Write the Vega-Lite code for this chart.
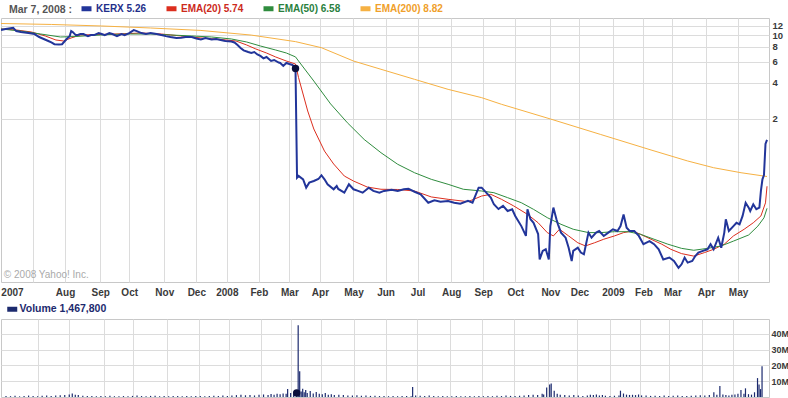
{
  "$schema": "https://vega.github.io/schema/vega-lite/v6.json",
  "background": "white",
  "padding": {"left": 0, "top": 0, "right": 0, "bottom": 0},
  "bounds": "flush",
  "spacing": 37,
  "config": {
    "view": {"stroke": "#c8c8c8"},
    "font": "Liberation Sans",
    "axis": {"gridColor": "#dcdcdc", "labelFont": "Liberation Sans", "labelFontWeight": "bold", "labelFontSize": 10, "labelColor": "#3a3a3a", "tickSize": 0, "domain": false, "title": null}
  },
  "resolve": {"scale": {"color": "independent", "x": "independent", "y": "independent"}, "legend": {"color": "independent"}},
  "vconcat": [
    {
      "width": 768,
      "height": 264,
      "title": {"text": "© 2008 Yahoo! Inc.", "orient": "bottom", "anchor": "start", "offset": -27, "dx": 3, "font": "Liberation Sans", "fontSize": 10, "fontWeight": "normal", "color": "#aaaaaa"},
      "data": {"values": [
        {"s":"KERX","t":0,"p":11.03},{"s":"KERX","t":3,"p":11.23},{"s":"KERX","t":8,"p":11.5},{"s":"KERX","t":10,"p":10.8},{"s":"KERX","t":13,"p":10.6},{"s":"KERX","t":18,"p":10.4},{"s":"KERX","t":22,"p":10.2},{"s":"KERX","t":25,"p":9.64},{"s":"KERX","t":28,"p":9.28},{"s":"KERX","t":31,"p":8.93},{"s":"KERX","t":33,"p":8.68},{"s":"KERX","t":35,"p":8.4},{"s":"KERX","t":38,"p":8.36},{"s":"KERX","t":40,"p":8.4},{"s":"KERX","t":41,"p":8.68},{"s":"KERX","t":43,"p":9.28},{"s":"KERX","t":45,"p":9.8},{"s":"KERX","t":46,"p":10.8},{"s":"KERX","t":47,"p":10.6},{"s":"KERX","t":49,"p":10.0},{"s":"KERX","t":50,"p":10.0},{"s":"KERX","t":52,"p":10.2},{"s":"KERX","t":54,"p":10.2},{"s":"KERX","t":57,"p":9.8},{"s":"KERX","t":59,"p":10.0},{"s":"KERX","t":61,"p":10.0},{"s":"KERX","t":64,"p":10.4},{"s":"KERX","t":66,"p":10.2},{"s":"KERX","t":68,"p":10.0},{"s":"KERX","t":71,"p":10.4},{"s":"KERX","t":73,"p":10.2},{"s":"KERX","t":76,"p":9.8},{"s":"KERX","t":79,"p":10.2},{"s":"KERX","t":81,"p":10.0},{"s":"KERX","t":84,"p":10.4},{"s":"KERX","t":86,"p":10.8},{"s":"KERX","t":87,"p":11.0},{"s":"KERX","t":89,"p":10.8},{"s":"KERX","t":92,"p":10.4},{"s":"KERX","t":95,"p":10.2},{"s":"KERX","t":98,"p":10.4},{"s":"KERX","t":102,"p":10.2},{"s":"KERX","t":105,"p":10.0},{"s":"KERX","t":108,"p":9.8},{"s":"KERX","t":111,"p":9.64},{"s":"KERX","t":115,"p":9.46},{"s":"KERX","t":118,"p":9.5},{"s":"KERX","t":121,"p":9.64},{"s":"KERX","t":125,"p":9.64},{"s":"KERX","t":128,"p":9.37},{"s":"KERX","t":131,"p":9.2},{"s":"KERX","t":134,"p":9.46},{"s":"KERX","t":138,"p":9.2},{"s":"KERX","t":141,"p":9.28},{"s":"KERX","t":144,"p":9.1},{"s":"KERX","t":147,"p":8.93},{"s":"KERX","t":151,"p":8.85},{"s":"KERX","t":153,"p":8.68},{"s":"KERX","t":155,"p":8.28},{"s":"KERX","t":157,"p":7.81},{"s":"KERX","t":159,"p":7.46},{"s":"KERX","t":162,"p":7.23},{"s":"KERX","t":164,"p":7.1},{"s":"KERX","t":166,"p":7.23},{"s":"KERX","t":168,"p":6.9},{"s":"KERX","t":170,"p":6.7},{"s":"KERX","t":172,"p":6.4},{"s":"KERX","t":174,"p":6.57},{"s":"KERX","t":177,"p":6.09},{"s":"KERX","t":179,"p":6.2},{"s":"KERX","t":182,"p":5.9},{"s":"KERX","t":183,"p":5.86},{"s":"KERX","t":185,"p":5.53},{"s":"KERX","t":187,"p":5.86},{"s":"KERX","t":189,"p":5.74},{"s":"KERX","t":191,"p":5.64},{"s":"KERX","t":193,"p":5.26},
        {"s":"KERX","t":194,"p":0.648},{"s":"KERX","t":195,"p":0.67},{"s":"KERX","t":198,"p":0.628},{"s":"KERX","t":200,"p":0.535},{"s":"KERX","t":202,"p":0.589},{"s":"KERX","t":205,"p":0.608},{"s":"KERX","t":208,"p":0.632},{"s":"KERX","t":210,"p":0.679},{"s":"KERX","t":212,"p":0.628},{"s":"KERX","t":214,"p":0.571},{"s":"KERX","t":218,"p":0.519},{"s":"KERX","t":220,"p":0.553},{"s":"KERX","t":221,"p":0.522},{"s":"KERX","t":225,"p":0.486},{"s":"KERX","t":228,"p":0.571},{"s":"KERX","t":231,"p":0.519},{"s":"KERX","t":234,"p":0.503},{"s":"KERX","t":237,"p":0.486},{"s":"KERX","t":241,"p":0.535},{"s":"KERX","t":244,"p":0.503},{"s":"KERX","t":248,"p":0.486},{"s":"KERX","t":251,"p":0.503},{"s":"KERX","t":256,"p":0.515},{"s":"KERX","t":260,"p":0.503},{"s":"KERX","t":264,"p":0.519},{"s":"KERX","t":267,"p":0.525},{"s":"KERX","t":271,"p":0.495},{"s":"KERX","t":275,"p":0.471},{"s":"KERX","t":280,"p":0.401},{"s":"KERX","t":284,"p":0.42},{"s":"KERX","t":288,"p":0.409},{"s":"KERX","t":293,"p":0.415},{"s":"KERX","t":297,"p":0.401},{"s":"KERX","t":301,"p":0.394},{"s":"KERX","t":306,"p":0.415},{"s":"KERX","t":309,"p":0.401},{"s":"KERX","t":313,"p":0.535},{"s":"KERX","t":315,"p":0.535},{"s":"KERX","t":318,"p":0.486},{"s":"KERX","t":321,"p":0.442},{"s":"KERX","t":323,"p":0.389},{"s":"KERX","t":326,"p":0.355},{"s":"KERX","t":329,"p":0.377},{"s":"KERX","t":332,"p":0.342},{"s":"KERX","t":335,"p":0.354},{"s":"KERX","t":337,"p":0.311},{"s":"KERX","t":341,"p":0.256},{"s":"KERX","t":344,"p":0.212},{"s":"KERX","t":345,"p":0.354},{"s":"KERX","t":347,"p":0.292},{"s":"KERX","t":349,"p":0.273},{"s":"KERX","t":352,"p":0.22},{"s":"KERX","t":353,"p":0.135},{"s":"KERX","t":355,"p":0.159},{"s":"KERX","t":357,"p":0.164},{"s":"KERX","t":359,"p":0.135},{"s":"KERX","t":360,"p":0.256},{"s":"KERX","t":362,"p":0.365},{"s":"KERX","t":364,"p":0.292},{"s":"KERX","t":365,"p":0.265},{"s":"KERX","t":367,"p":0.226},{"s":"KERX","t":370,"p":0.205},{"s":"KERX","t":372,"p":0.169},{"s":"KERX","t":374,"p":0.131},{"s":"KERX","t":375,"p":0.159},{"s":"KERX","t":378,"p":0.169},{"s":"KERX","t":380,"p":0.154},{"s":"KERX","t":382,"p":0.149},{"s":"KERX","t":385,"p":0.226},{"s":"KERX","t":387,"p":0.205},{"s":"KERX","t":390,"p":0.226},{"s":"KERX","t":392,"p":0.233},{"s":"KERX","t":395,"p":0.212},{"s":"KERX","t":398,"p":0.226},{"s":"KERX","t":401,"p":0.241},{"s":"KERX","t":404,"p":0.233},{"s":"KERX","t":406,"p":0.256},{"s":"KERX","t":408,"p":0.32},{"s":"KERX","t":410,"p":0.248},{"s":"KERX","t":412,"p":0.233},{"s":"KERX","t":415,"p":0.233},{"s":"KERX","t":418,"p":0.212},{"s":"KERX","t":421,"p":0.181},{"s":"KERX","t":425,"p":0.192},{"s":"KERX","t":428,"p":0.181},{"s":"KERX","t":431,"p":0.164},{"s":"KERX","t":434,"p":0.135},{"s":"KERX","t":438,"p":0.14},{"s":"KERX","t":441,"p":0.131},{"s":"KERX","t":444,"p":0.115},{"s":"KERX","t":446,"p":0.123},{"s":"KERX","t":448,"p":0.14},{"s":"KERX","t":450,"p":0.127},{"s":"KERX","t":453,"p":0.131},{"s":"KERX","t":455,"p":0.144},{"s":"KERX","t":457,"p":0.154},{"s":"KERX","t":460,"p":0.159},{"s":"KERX","t":463,"p":0.164},{"s":"KERX","t":465,"p":0.181},{"s":"KERX","t":467,"p":0.164},{"s":"KERX","t":470,"p":0.205},{"s":"KERX","t":472,"p":0.169},{"s":"KERX","t":474,"p":0.226},{"s":"KERX","t":475,"p":0.292},{"s":"KERX","t":477,"p":0.233},{"s":"KERX","t":480,"p":0.256},{"s":"KERX","t":482,"p":0.273},{"s":"KERX","t":484,"p":0.265},{"s":"KERX","t":486,"p":0.311},{"s":"KERX","t":488,"p":0.401},{"s":"KERX","t":490,"p":0.365},{"s":"KERX","t":491,"p":0.342},{"s":"KERX","t":493,"p":0.389},{"s":"KERX","t":495,"p":0.354},{"s":"KERX","t":497,"p":0.365},{"s":"KERX","t":498,"p":0.503},{"s":"KERX","t":499,"p":0.628},{"s":"KERX","t":500,"p":0.682},{"s":"KERX","t":501,"p":1.24},{"s":"KERX","t":502,"p":1.34},
        {"s":"EMA(20)","t":0,"p":11.24},{"s":"EMA(20)","t":10,"p":11.03},{"s":"EMA(20)","t":20,"p":10.61},{"s":"EMA(20)","t":29,"p":9.83},{"s":"EMA(20)","t":36,"p":9.1},{"s":"EMA(20)","t":41,"p":8.93},{"s":"EMA(20)","t":46,"p":9.46},{"s":"EMA(20)","t":52,"p":10.02},{"s":"EMA(20)","t":66,"p":10.12},{"s":"EMA(20)","t":85,"p":10.31},{"s":"EMA(20)","t":92,"p":10.41},{"s":"EMA(20)","t":105,"p":10.21},{"s":"EMA(20)","t":118,"p":9.83},{"s":"EMA(20)","t":131,"p":9.46},{"s":"EMA(20)","t":144,"p":9.19},{"s":"EMA(20)","t":154,"p":8.93},{"s":"EMA(20)","t":161,"p":8.27},{"s":"EMA(20)","t":167,"p":7.66},{"s":"EMA(20)","t":174,"p":7.09},{"s":"EMA(20)","t":180,"p":6.57},{"s":"EMA(20)","t":187,"p":6.08},{"s":"EMA(20)","t":193,"p":5.74},{"s":"EMA(20)","t":195,"p":4.42},{"s":"EMA(20)","t":201,"p":2.33},{"s":"EMA(20)","t":205,"p":1.65},{"s":"EMA(20)","t":212,"p":1.08},{"s":"EMA(20)","t":218,"p":0.843},{"s":"EMA(20)","t":225,"p":0.669},{"s":"EMA(20)","t":231,"p":0.608},{"s":"EMA(20)","t":240,"p":0.542},{"s":"EMA(20)","t":249,"p":0.519},{"s":"EMA(20)","t":260,"p":0.517},{"s":"EMA(20)","t":271,"p":0.502},{"s":"EMA(20)","t":282,"p":0.448},{"s":"EMA(20)","t":293,"p":0.428},{"s":"EMA(20)","t":306,"p":0.409},{"s":"EMA(20)","t":315,"p":0.456},{"s":"EMA(20)","t":321,"p":0.471},{"s":"EMA(20)","t":328,"p":0.428},{"s":"EMA(20)","t":336,"p":0.377},{"s":"EMA(20)","t":345,"p":0.321},{"s":"EMA(20)","t":352,"p":0.273},{"s":"EMA(20)","t":358,"p":0.226},{"s":"EMA(20)","t":362,"p":0.212},{"s":"EMA(20)","t":366,"p":0.241},{"s":"EMA(20)","t":372,"p":0.212},{"s":"EMA(20)","t":378,"p":0.186},{"s":"EMA(20)","t":383,"p":0.175},{"s":"EMA(20)","t":389,"p":0.186},{"s":"EMA(20)","t":395,"p":0.199},{"s":"EMA(20)","t":402,"p":0.212},{"s":"EMA(20)","t":408,"p":0.226},{"s":"EMA(20)","t":414,"p":0.233},{"s":"EMA(20)","t":419,"p":0.219},{"s":"EMA(20)","t":426,"p":0.199},{"s":"EMA(20)","t":433,"p":0.181},{"s":"EMA(20)","t":439,"p":0.164},{"s":"EMA(20)","t":446,"p":0.151},{"s":"EMA(20)","t":454,"p":0.144},{"s":"EMA(20)","t":461,"p":0.154},{"s":"EMA(20)","t":467,"p":0.164},{"s":"EMA(20)","t":474,"p":0.181},{"s":"EMA(20)","t":480,"p":0.212},{"s":"EMA(20)","t":487,"p":0.241},{"s":"EMA(20)","t":493,"p":0.273},{"s":"EMA(20)","t":498,"p":0.311},{"s":"EMA(20)","t":501,"p":0.4},{"s":"EMA(20)","t":502,"p":0.55},
        {"s":"EMA(50)","t":0,"p":11.24},{"s":"EMA(50)","t":13,"p":10.81},{"s":"EMA(50)","t":26,"p":10.21},{"s":"EMA(50)","t":39,"p":9.64},{"s":"EMA(50)","t":49,"p":9.73},{"s":"EMA(50)","t":59,"p":9.92},{"s":"EMA(50)","t":72,"p":10.12},{"s":"EMA(50)","t":85,"p":10.21},{"s":"EMA(50)","t":98,"p":10.21},{"s":"EMA(50)","t":111,"p":10.02},{"s":"EMA(50)","t":125,"p":9.83},{"s":"EMA(50)","t":138,"p":9.64},{"s":"EMA(50)","t":151,"p":9.28},{"s":"EMA(50)","t":161,"p":8.76},{"s":"EMA(50)","t":170,"p":8.11},{"s":"EMA(50)","t":180,"p":7.51},{"s":"EMA(50)","t":187,"p":7.09},{"s":"EMA(50)","t":193,"p":6.58},{"s":"EMA(50)","t":195,"p":6.08},{"s":"EMA(50)","t":205,"p":4.14},{"s":"EMA(50)","t":216,"p":2.67},{"s":"EMA(50)","t":227,"p":1.86},{"s":"EMA(50)","t":238,"p":1.35},{"s":"EMA(50)","t":249,"p":1.047},{"s":"EMA(50)","t":260,"p":0.838},{"s":"EMA(50)","t":271,"p":0.713},{"s":"EMA(50)","t":282,"p":0.628},{"s":"EMA(50)","t":293,"p":0.571},{"s":"EMA(50)","t":303,"p":0.519},{"s":"EMA(50)","t":315,"p":0.502},{"s":"EMA(50)","t":323,"p":0.486},{"s":"EMA(50)","t":332,"p":0.442},{"s":"EMA(50)","t":341,"p":0.401},{"s":"EMA(50)","t":349,"p":0.353},{"s":"EMA(50)","t":358,"p":0.301},{"s":"EMA(50)","t":367,"p":0.265},{"s":"EMA(50)","t":375,"p":0.241},{"s":"EMA(50)","t":385,"p":0.226},{"s":"EMA(50)","t":393,"p":0.226},{"s":"EMA(50)","t":402,"p":0.23},{"s":"EMA(50)","t":411,"p":0.23},{"s":"EMA(50)","t":419,"p":0.219},{"s":"EMA(50)","t":428,"p":0.199},{"s":"EMA(50)","t":437,"p":0.181},{"s":"EMA(50)","t":446,"p":0.167},{"s":"EMA(50)","t":454,"p":0.161},{"s":"EMA(50)","t":463,"p":0.167},{"s":"EMA(50)","t":472,"p":0.175},{"s":"EMA(50)","t":480,"p":0.192},{"s":"EMA(50)","t":490,"p":0.216},{"s":"EMA(50)","t":496,"p":0.256},{"s":"EMA(50)","t":500,"p":0.3},{"s":"EMA(50)","t":502,"p":0.36},
        {"s":"EMA(200)","t":0,"p":12.49},{"s":"EMA(200)","t":33,"p":12.26},{"s":"EMA(200)","t":66,"p":11.91},{"s":"EMA(200)","t":98,"p":11.46},{"s":"EMA(200)","t":131,"p":10.93},{"s":"EMA(200)","t":164,"p":10.0},{"s":"EMA(200)","t":193,"p":8.82},{"s":"EMA(200)","t":210,"p":7.85},{"s":"EMA(200)","t":231,"p":6.08},{"s":"EMA(200)","t":249,"p":5.19},{"s":"EMA(200)","t":271,"p":4.28},{"s":"EMA(200)","t":293,"p":3.53},{"s":"EMA(200)","t":315,"p":3.01},{"s":"EMA(200)","t":328,"p":2.65},{"s":"EMA(200)","t":360,"p":2.0},{"s":"EMA(200)","t":393,"p":1.485},{"s":"EMA(200)","t":426,"p":1.103},{"s":"EMA(200)","t":450,"p":0.893},{"s":"EMA(200)","t":467,"p":0.785},{"s":"EMA(200)","t":485,"p":0.713},{"s":"EMA(200)","t":502,"p":0.663}
      ]},
      "encoding": {
        "x": {"field": "t", "type": "quantitative",
          "scale": {"domain": [0, 503.3], "nice": false, "zero": false},
          "axis": {"orient": "bottom",
            "values": [7.2,21,42,65,84,107,128,148,169,189,209,231,252,273,295,316,337,360,379,401,421,440,462,483],
            "labelExpr": "datum.value==7.2?'2007':datum.value==42?'Aug':datum.value==65?'Sep':datum.value==84?'Oct':datum.value==107?'Nov':datum.value==128?'Dec':datum.value==148?'2008':datum.value==169?'Feb':datum.value==189?'Mar':datum.value==209?'Apr':datum.value==231?'May':datum.value==252?'Jun':datum.value==273?'Jul':datum.value==295?'Aug':datum.value==316?'Sep':datum.value==337?'Oct':datum.value==360?'Nov':datum.value==379?'Dec':datum.value==401?'2009':datum.value==421?'Feb':datum.value==440?'Mar':datum.value==462?'Apr':datum.value==483?'May':''",
            "labelOverlap": false, "labelFlush": false, "labelPadding": 5,
            "gridOpacity": {"condition": {"test": "datum.value < 10", "value": 0}, "value": 1}}},
        "y": {"field": "p", "type": "quantitative",
          "scale": {"type": "log", "domain": [0.0876, 13.88], "nice": false},
          "axis": {"orient": "right", "values": [2,4,6,8,10,12], "labelOverlap": false, "labelFlush": false, "labelPadding": 3, "labelFontSize": 9.5}}
      },
      "layer": [
        {
          "transform": [{"filter": "datum.s != 'KERX'"}],
          "mark": {"type": "line", "strokeWidth": 1, "clip": true},
          "encoding": {
            "color": {"field": "s", "type": "nominal",
              "scale": {"domain": ["KERX","EMA(20)","EMA(50)","EMA(200)"], "range": ["#22359a","#dc2e1e","#2f8c3e","#f6b143"]},
              "legend": {"orient": "none", "legendX": 8, "legendY": -17, "direction": "horizontal",
                "title": "Mar 7, 2008 :", "titleOrient": "left", "titleColor": "#555555", "titleFont": "Liberation Sans", "titleFontSize": 10.5, "titleFontWeight": "bold", "titlePadding": 6,
                "symbolType": "stroke", "symbolSize": 100, "symbolStrokeWidth": 5,
                "labelFont": "Liberation Sans", "labelFontSize": 10, "labelFontWeight": "bold", "labelOffset": 2, "columnPadding": 9,
                "labelExpr": "datum.label=='KERX'?'KERX 5.26':datum.label=='EMA(20)'?'EMA(20) 5.74':datum.label=='EMA(50)'?'EMA(50) 6.58':'EMA(200) 8.82'",
                "labelColor": {"expr": "datum.value=='KERX'?'#1f2f8a':datum.value=='EMA(20)'?'#cc2a1c':datum.value=='EMA(50)'?'#2a7f3e':'#f0a02a'"}}
            }
          }
        },
        {
          "transform": [{"filter": "datum.s == 'KERX'"}],
          "mark": {"type": "line", "strokeWidth": 2, "clip": true},
          "encoding": {"color": {"field": "s", "type": "nominal"}}
        },
        {
          "transform": [{"filter": "datum.s == 'KERX' && datum.t == 193"}],
          "mark": {"type": "circle", "size": 55, "color": "#0b0f3c", "opacity": 1}
        }
      ]
    },
    {
      "width": 768,
      "height": 78,
      "data": {"values": [
        {"t":0,"v":0.6},{"t":3,"v":0.5},{"t":6,"v":0.8},{"t":9,"v":0.4},{"t":12,"v":0.7},{"t":15,"v":0.9},{"t":18,"v":0.6},{"t":21,"v":0.5},{"t":24,"v":0.8},{"t":27,"v":1.0},{"t":30,"v":0.7},{"t":33,"v":0.9},{"t":36,"v":1.1},{"t":39,"v":1.3},{"t":42,"v":1.6},{"t":44,"v":2.2},{"t":46,"v":1.5},{"t":48,"v":1.2},{"t":51,"v":0.8},{"t":54,"v":0.6},{"t":57,"v":0.7},{"t":60,"v":0.5},{"t":63,"v":0.6},{"t":66,"v":0.4},{"t":69,"v":0.8},{"t":72,"v":0.5},{"t":75,"v":0.4},{"t":78,"v":0.6},{"t":81,"v":0.5},{"t":84,"v":0.7},{"t":87,"v":0.9},{"t":90,"v":0.6},{"t":93,"v":0.5},{"t":96,"v":0.7},{"t":99,"v":0.8},{"t":102,"v":0.5},{"t":105,"v":0.6},{"t":108,"v":0.4},{"t":111,"v":0.6},{"t":114,"v":0.7},{"t":117,"v":0.5},{"t":120,"v":0.6},{"t":123,"v":0.5},{"t":126,"v":0.7},{"t":129,"v":0.6},{"t":132,"v":0.5},{"t":135,"v":0.7},{"t":138,"v":0.8},{"t":141,"v":0.6},{"t":144,"v":0.9},{"t":147,"v":0.7},{"t":150,"v":1.0},{"t":153,"v":1.2},{"t":156,"v":1.5},{"t":159,"v":1.1},{"t":162,"v":1.3},{"t":165,"v":1.0},{"t":168,"v":1.4},{"t":171,"v":1.6},{"t":174,"v":1.2},{"t":176,"v":1.9},{"t":178,"v":1.5},{"t":180,"v":2.0},{"t":182,"v":1.7},{"t":184,"v":2.3},{"t":186,"v":2.0},{"t":187,"v":5.0},{"t":189,"v":2.6},{"t":191,"v":2.2},{"t":193,"v":2.6},{"t":194,"v":45.5},{"t":195,"v":16.4},{"t":196,"v":3.5},{"t":197,"v":5.2},{"t":198,"v":3.0},{"t":199,"v":4.5},{"t":200,"v":2.5},{"t":202,"v":3.8},{"t":204,"v":2.2},{"t":206,"v":3.2},{"t":208,"v":2.0},{"t":210,"v":1.8},{"t":212,"v":2.5},{"t":214,"v":1.5},{"t":216,"v":1.8},{"t":218,"v":1.3},{"t":221,"v":1.5},{"t":224,"v":1.2},{"t":227,"v":1.0},{"t":230,"v":0.9},{"t":233,"v":1.1},{"t":236,"v":0.8},{"t":239,"v":0.9},{"t":242,"v":0.7},{"t":245,"v":0.8},{"t":248,"v":0.6},{"t":251,"v":0.7},{"t":254,"v":0.5},{"t":257,"v":0.6},{"t":260,"v":0.5},{"t":263,"v":0.7},{"t":266,"v":0.6},{"t":269,"v":0.5},{"t":270,"v":6.4},{"t":272,"v":1.0},{"t":275,"v":0.8},{"t":278,"v":0.7},{"t":281,"v":0.9},{"t":284,"v":0.6},{"t":287,"v":0.5},{"t":290,"v":0.6},{"t":293,"v":0.4},{"t":296,"v":0.5},{"t":299,"v":0.6},{"t":302,"v":0.5},{"t":305,"v":0.4},{"t":308,"v":0.6},{"t":311,"v":0.5},{"t":314,"v":0.7},{"t":317,"v":0.5},{"t":320,"v":0.6},{"t":323,"v":0.5},{"t":326,"v":0.8},{"t":329,"v":0.6},{"t":332,"v":0.9},{"t":335,"v":0.7},{"t":338,"v":0.6},{"t":341,"v":0.8},{"t":344,"v":1.0},{"t":347,"v":1.2},{"t":350,"v":1.5},{"t":353,"v":1.3},{"t":356,"v":2.0},{"t":357,"v":1.6},{"t":359,"v":6.0},{"t":361,"v":8.0},{"t":362,"v":8.5},{"t":364,"v":4.0},{"t":366,"v":2.0},{"t":368,"v":1.5},{"t":371,"v":1.2},{"t":374,"v":1.0},{"t":377,"v":1.3},{"t":380,"v":0.9},{"t":383,"v":0.7},{"t":386,"v":1.0},{"t":388,"v":1.4},{"t":390,"v":1.2},{"t":392,"v":1.6},{"t":394,"v":1.0},{"t":396,"v":1.3},{"t":398,"v":0.8},{"t":401,"v":0.6},{"t":404,"v":0.8},{"t":407,"v":1.0},{"t":408,"v":4.0},{"t":410,"v":2.2},{"t":412,"v":1.5},{"t":414,"v":1.3},{"t":416,"v":1.4},{"t":418,"v":1.2},{"t":420,"v":1.6},{"t":422,"v":1.0},{"t":425,"v":0.9},{"t":428,"v":0.7},{"t":431,"v":0.8},{"t":434,"v":0.6},{"t":437,"v":0.9},{"t":440,"v":0.7},{"t":443,"v":0.8},{"t":446,"v":0.9},{"t":449,"v":0.6},{"t":452,"v":0.7},{"t":455,"v":0.8},{"t":458,"v":0.9},{"t":461,"v":1.1},{"t":464,"v":1.0},{"t":467,"v":1.3},{"t":470,"v":3.0},{"t":472,"v":1.5},{"t":474,"v":7.0},{"t":476,"v":1.6},{"t":478,"v":1.2},{"t":480,"v":1.0},{"t":482,"v":1.4},{"t":484,"v":1.6},{"t":486,"v":2.0},{"t":488,"v":4.5},{"t":490,"v":2.0},{"t":491,"v":5.5},{"t":493,"v":1.8},{"t":495,"v":1.5},{"t":497,"v":3.0},{"t":499,"v":12.0},{"t":500,"v":8.0},{"t":501,"v":5.0},{"t":502,"v":19.5}
      ]},
      "encoding": {
        "x": {"field": "t", "type": "quantitative",
          "scale": {"domain": [0, 503.3], "nice": false, "zero": false},
          "axis": {"values": [21,42,65,84,107,128,148,169,189,209,231,252,273,295,316,337,360,379,401,421,440,462,483], "labels": false, "ticks": false, "domain": false}},
        "y": {"field": "v", "type": "quantitative",
          "scale": {"domain": [0, 49.5], "nice": false, "zero": true},
          "axis": {"orient": "right", "values": [10,20,30,40], "labelExpr": "datum.value + 'M'", "labelPadding": 2, "labelFontSize": 9, "labelOverlap": false, "labelFlush": false}}
      },
      "layer": [
        {
          "mark": {"type": "bar", "width": 1.2, "clip": true},
          "encoding": {
            "color": {"datum": "Volume", "type": "nominal",
              "scale": {"domain": ["Volume"], "range": ["#1c2a6e"]},
              "legend": {"orient": "none", "legendX": 6, "legendY": -15, "title": null,
                "symbolType": "M-1,-0.5H1V0.5H-1Z", "symbolSize": 100, "symbolStrokeWidth": 0, "symbolOpacity": 1,
                "labelFont": "Liberation Sans", "labelFontSize": 10.5, "labelFontWeight": "bold", "labelOffset": 2, "labelColor": "#1c2a6e",
                "labelExpr": "'Volume 1,467,800'"}
            }
          }
        },
        {
          "transform": [{"filter": "datum.t == 193"}],
          "mark": {"type": "circle", "size": 55, "color": "#0b0f3c", "opacity": 1}
        }
      ]
    }
  ]
}
